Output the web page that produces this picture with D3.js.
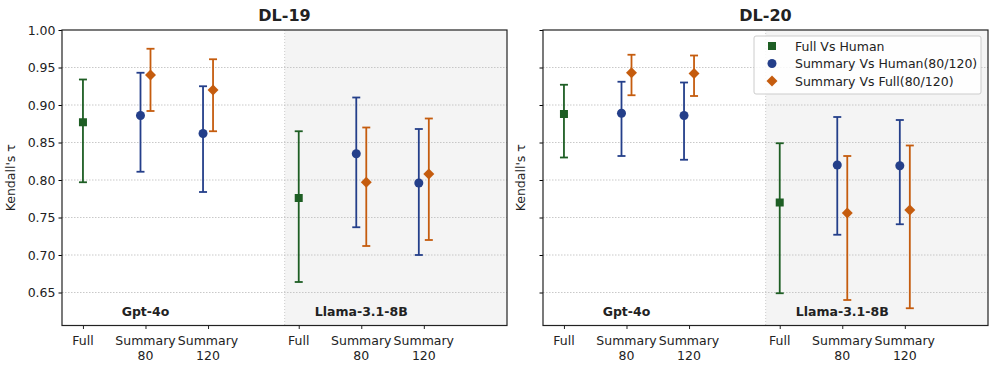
<!DOCTYPE html>
<html lang="en">
<head>
  <meta charset="UTF-8">
  <title>Kendall's tau</title>
  <script src="https://cdnjs.cloudflare.com/ajax/libs/d3/7.8.5/d3.min.js"></script>
  <style>
    body { margin: 0; background: #fff; }
    svg text { font-family: "DejaVu Sans", Verdana, sans-serif; fill: #222; }
  </style>
</head>
<body>
  <div id="chart"></div>
  <script>
    // category positions on the x axis
    const categories = ['Full', 'Summary\n80', 'Summary\n120', 'Full', 'Summary\n80', 'Summary\n120'];
    const catPos = [0, 1, 2, 3.45, 4.45, 5.45];
    const groups = ['Gpt-4o', 'Llama-3.1-8B'];
    const yTicks = [0.65, 0.70, 0.75, 0.80, 0.85, 0.90, 0.95, 1.00];
    const seriesNames = ['Full Vs Human', 'Summary Vs Human(80/120)', 'Summary Vs Full(80/120)'];

    // DL-19: [category index, series index, mean, low, high]
    const dl19 = [
      [0, 0, 0.877, 0.797, 0.934],
      [1, 1, 0.886, 0.811, 0.943],
      [1, 2, 0.940, 0.892, 0.975],
      [2, 1, 0.862, 0.784, 0.925],
      [2, 2, 0.920, 0.865, 0.961],
      [3, 0, 0.776, 0.664, 0.865],
      [4, 1, 0.835, 0.737, 0.910],
      [4, 2, 0.797, 0.712, 0.870],
      [5, 1, 0.796, 0.700, 0.868],
      [5, 2, 0.808, 0.720, 0.882]
    ];
    // DL-20
    const dl20 = [
      [0, 0, 0.888, 0.830, 0.927],
      [1, 1, 0.889, 0.832, 0.931],
      [1, 2, 0.943, 0.913, 0.967],
      [2, 1, 0.886, 0.827, 0.930],
      [2, 2, 0.942, 0.912, 0.966],
      [3, 0, 0.770, 0.649, 0.849],
      [4, 1, 0.820, 0.727, 0.884],
      [4, 2, 0.756, 0.640, 0.832],
      [5, 1, 0.819, 0.741, 0.880],
      [5, 2, 0.760, 0.629, 0.846]
    ];

    const colors = ['#1e5e24', '#243f8a', '#c55c0e'];
    const offsets = [0, -0.08, 0.08];

    const width = 997, height = 370;
    const svg = d3.select('#chart').append('svg')
      .attr('width', width).attr('height', height);

    //draw one panel
    function panel(data, left, title, showLegend, showTickLabels) {
      const top = 30, bottom = 325.5, w = 445;
      const x = d3.scaleLinear().domain([-0.335, 6.78]).range([left, left + w]);
      const y = d3.scaleLinear().domain([0.606, 1.0]).range([bottom, top]);
      const g = svg.append('g');

      // shaded llama region
      g.append('rect')
        .attr('x', x(3.225)).attr('y', top)
        .attr('width', x(6.78) - x(3.225)).attr('height', bottom - top)
        .attr('fill', '#f4f4f4');
      g.append('line')
        .attr('x1', x(3.225)).attr('x2', x(3.225)).attr('y1', top).attr('y2', bottom)
        .attr('stroke', '#ccc').attr('stroke-dasharray', '1,2');

      // grid
      g.selectAll('.grid').data(yTicks.filter(d => d < 1)).join('line')
        .attr('x1', left).attr('x2', left + w)
        .attr('y1', d => y(d)).attr('y2', d => y(d))
        .attr('stroke', '#bbb').attr('stroke-width', 0.8).attr('stroke-dasharray', '1.5,1.5');

      // group labels
      g.selectAll('.grp').data(groups).join('text')
        .attr('x', (d, i) => x(catPos[i * 3 + 1]))
        .attr('y', 316)
        .attr('text-anchor', 'middle')
        .attr('font-size', 12.5).attr('font-weight', 'bold')
        .text(d => d);

      // error bars
      data.forEach(d => {
        const cx = x(catPos[d[0]] + offsets[d[1]]);
        const c = colors[d[1]];
        g.append('line').attr('x1', cx).attr('x2', cx)
          .attr('y1', y(d[3])).attr('y2', y(d[4]))
          .attr('stroke', c).attr('stroke-width', 1.8);
        [d[3], d[4]].forEach(v => {
          g.append('line').attr('x1', cx - 4).attr('x2', cx + 4)
            .attr('y1', y(v)).attr('y2', y(v))
            .attr('stroke', c).attr('stroke-width', 1.8);
        });
        marker(g, d[1], cx, y(d[2]));
      });

      // axes
      const yAxis = d3.axisLeft(y).tickValues(yTicks).tickSize(3.5).tickPadding(3)
        .tickFormat(showTickLabels ? d3.format('.2f') : '');
      g.append('g').attr('transform', `translate(${left},0)`).call(yAxis)
        .call(a => a.selectAll('text').attr('font-size', 12.5).attr('fill', '#222'));
      const xAxis = d3.axisBottom(x).tickValues(catPos).tickSize(3.5).tickFormat('');
      const xa = g.append('g').attr('transform', `translate(0,${bottom})`).call(xAxis);
      xa.select('.domain').remove();
      xa.selectAll('.tick line').attr('stroke', '#222');
      g.select('g').select('.domain').remove();

      catPos.forEach((p, i) => {
        const t = g.append('text').attr('x', x(p)).attr('y', bottom + 19)
          .attr('text-anchor', 'middle').attr('font-size', 12.5);
        categories[i].split('\n').forEach((s, j) => {
          t.append('tspan').attr('x', x(p)).attr('dy', j ? 15.5 : 0).text(s);
        });
      });

      // frame
      g.append('rect').attr('x', left).attr('y', top).attr('width', w).attr('height', bottom - top)
        .attr('fill', 'none').attr('stroke', '#222').attr('stroke-width', 1.2);

      // title and y label
      g.append('text').attr('x', left + w / 2).attr('y', 21)
        .attr('text-anchor', 'middle').attr('font-size', 16).attr('font-weight', 'bold')
        .text(title);
      g.append('text')
        .attr('transform', `translate(${left - (showTickLabels ? 47 : 18)},${(top + bottom) / 2}) rotate(-90)`)
        .attr('text-anchor', 'middle').attr('font-size', 12.5)
        .text("Kendall's τ");

      if (showLegend) {
        const lg = g.append('g');
        lg.append('rect').attr('x', 754).attr('y', 36).attr('width', 227).attr('height', 58)
          .attr('rx', 2).attr('fill', '#fff').attr('fill-opacity', 0.85)
          .attr('stroke', '#ccc');
        seriesNames.forEach((s, i) => {
          const ly = 46 + i * 17.5;
          marker(lg, i, 772, ly);
          lg.append('text').attr('x', 795).attr('y', ly + 4.5)
            .attr('font-size', 12.5).text(s);
        });
      }
    }

    function marker(g, s, cx, cy) {
      const c = colors[s];
      if (s === 0) {
        g.append('rect').attr('x', cx - 4).attr('y', cy - 4).attr('width', 8).attr('height', 8).attr('fill', c);
      } else if (s === 1) {
        g.append('circle').attr('cx', cx).attr('cy', cy).attr('r', 4.5).attr('fill', c);
      } else {
        g.append('path').attr('d', d3.symbol(d3.symbolSquare, 60)())
          .attr('transform', `translate(${cx},${cy}) rotate(45)`).attr('fill', c);
      }
    }

    panel(dl19, 62, 'DL-19', false, true);
    panel(dl20, 543, 'DL-20', true, false);
  </script>
</body>
</html>
